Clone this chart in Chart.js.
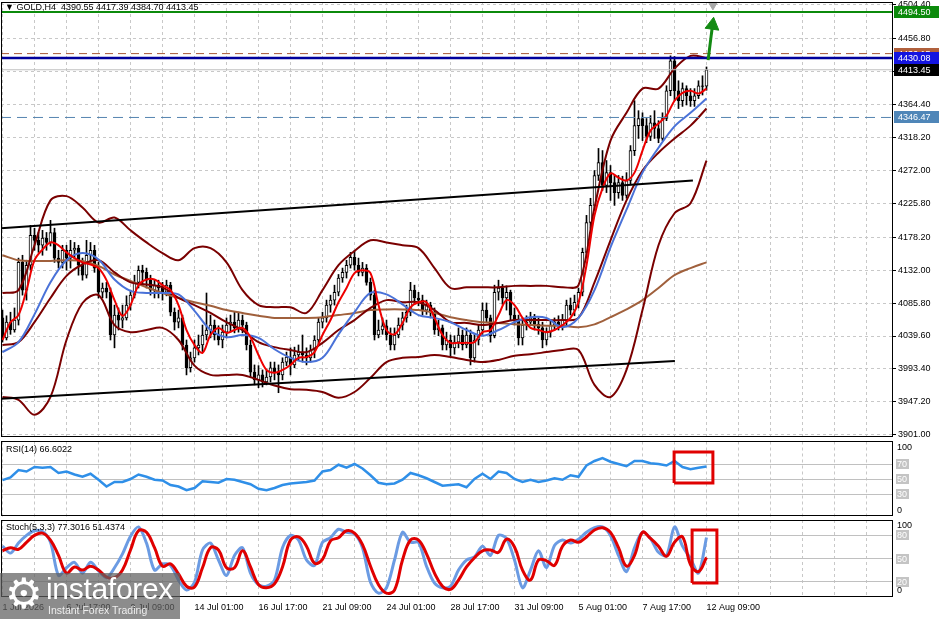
<!DOCTYPE html>
<html>
<head>
<meta charset="utf-8">
<script src="https://cdn.jsdelivr.net/npm/chart.js@4.4.1/dist/chart.umd.min.js"></script>
<style>
  html, body { margin: 0; padding: 0; background: #fff; }
  #wrap { position: relative; width: 939px; height: 619px; overflow: hidden; background: #fff; }
  .pane { position: absolute; left: 0; width: 939px; }
  #logo { position: absolute; left: 0; top: 573px; width: 180px; height: 46px; background: rgba(96,96,96,0.72); color: #fff; font-family: 'Liberation Sans', Arial, sans-serif; }
  #logo .gear { position: absolute; left: 5px; top: -4px; font-size: 42px; line-height: 50px; font-family: 'DejaVu Sans', sans-serif; }
  #logo .big { position: absolute; left: 46px; top: 0px; font-size: 30px; line-height: 32px; letter-spacing: -0.3px; }
  #logo .small { position: absolute; left: 48px; top: 31px; font-size: 10.5px; line-height: 12px; color: #eee; }
</style>
</head>
<body>
<div id="wrap">
  <div class="pane" style="top:0;height:439px"><canvas id="chartMain"></canvas></div>
  <div class="pane" style="top:439px;height:80px"><canvas id="chartRsi"></canvas></div>
  <div class="pane" style="top:518px;height:101px"><canvas id="chartStoch"></canvas></div>
  <div id="logo"><span class="gear">⚙</span><span class="big">instaforex</span><span class="small">Instant Forex Trading</span></div>
</div>
<script>
// ---- data ----
const timeLabels = ['1 Jul 2026', '6 Jul 17:00', '9 Jul 09:00', '14 Jul 01:00', '16 Jul 17:00', '21 Jul 09:00',
                    '24 Jul 01:00', '28 Jul 17:00', '31 Jul 09:00', '5 Aug 01:00', '7 Aug 17:00', '12 Aug 09:00'];
const priceTicks = [4504.40, 4456.80, 4410.60, 4364.40, 4318.20, 4272.00, 4225.80, 4178.20, 4132.00, 4085.80, 4039.60, 3993.40, 3947.20, 3901.00];

const open = [4065,4037,4059,4048,4062,4143,4104,4139,4181,4174, 4167,4177,4171,4185,4149,4143,4160,4149,4160,4163,
  4139,4125,4153,4160,4135,4101,4107,4101,4041,4069, 4062,4065,4083,4097,4115,4132,4129,4118,4104,4111,
  4107,4101,4111,4073,4059,4065,4027,3995,4009,4023, 4027,4041,4048,4055,4041,4034,4045,4055,4059,4051,
  4062,4055,4027,3989,3978,3985,3975,3982,3995,3989, 3985,4003,4010,3999,4013,4017,4013,4009,4020,4034,
  4059,4065,4083,4090,4101,4121,4129,4139,4150,4139, 4129,4135,4115,4097,4041,4048,4054,4041,4027,4041,
  4055,4065,4073,4104,4093,4090,4076,4083,4073,4048, 4051,4027,4034,4023,4031,4041,4027,4041,4009,4034,
  4048,4076,4065,4040,4101,4107,4093,4101,4069,4062, 4037,4055,4059,4065,4056,4051,4034,4045,4055,4059,
  4054,4062,4083,4076,4087,4101,4157,4199,4223,4265, 4283,4251,4269,4255,4241,4255,4237,4258,4300,4335,
  4345,4335,4320,4339,4331,4317,4345,4384,4426,4384, 4370,4387,4377,4370,4377,4391,4390.55];
const high = [4076,4068,4073,4079,4149,4153,4146,4195,4191,4185, 4188,4185,4202,4191,4160,4167,4167,4174,4171,4167,
  4149,4174,4171,4167,4143,4114,4115,4107,4083,4079, 4083,4096,4104,4125,4138,4139,4135,4125,4118,4118,
  4115,4118,4115,4079,4076,4069,4034,4017,4034,4041, 4055,4100,4069,4062,4054,4055,4065,4069,4073,4073,
  4069,4059,4034,3999,3998,3992,3992,4003,4003,3999, 4009,4017,4023,4024,4027,4041,4023,4027,4040,4065,
  4073,4090,4097,4111,4126,4135,4146,4157,4160,4149, 4143,4140,4121,4104,4062,4065,4062,4051,4051,4065,
  4073,4083,4115,4111,4101,4097,4090,4087,4079,4062, 4055,4045,4041,4040,4051,4048,4051,4048,4042,4055,
  4086,4086,4069,4111,4118,4112,4110,4104,4079,4069, 4065,4068,4073,4070,4065,4059,4051,4062,4065,4068,
  4070,4090,4093,4097,4107,4163,4209,4233,4272,4303, 4300,4286,4279,4265,4265,4264,4269,4307,4370,4356,
  4353,4345,4349,4356,4342,4353,4391,4433,4432,4398, 4395,4391,4387,4387,4398,4405,4417.39];
const low = [4031,4034,4042,4045,4055,4097,4090,4132,4160,4157, 4153,4160,4166,4143,4135,4135,4132,4135,4149,4125,
  4118,4121,4143,4129,4093,4093,4093,4034,4023,4048, 4051,4062,4076,4093,4107,4111,4107,4097,4093,4093,
  4090,4096,4068,4048,4051,4020,3985,3989,4003,4013, 4017,4034,4037,4034,4027,4023,4037,4045,4044,4045,
  4044,4020,3981,3971,3967,3968,3971,3975,3978,3960, 3978,3998,3985,3995,4006,4003,3999,4003,4009,4027,
  4051,4059,4073,4083,4096,4115,4121,4135,4132,4124, 4124,4111,4090,4034,4037,4042,4034,4020,4020,4037,
  4048,4059,4068,4084,4082,4069,4070,4065,4042,4040, 4020,4020,4012,4014,4023,4020,4023,3999,4003,4027,
  4042,4059,4031,4037,4090,4084,4076,4062,4055,4027, 4027,4048,4054,4048,4042,4023,4027,4038,4048,4048,
  4048,4054,4069,4068,4079,4096,4149,4191,4216,4258, 4244,4241,4230,4223,4233,4230,4233,4252,4293,4317,
  4314,4311,4314,4317,4311,4314,4342,4377,4370,4359, 4362,4364,4362,4362,4373,4378,4384.70];
const close = [4037,4059,4048,4062,4143,4104,4139,4181,4174,4167, 4177,4171,4185,4149,4143,4160,4149,4160,4163,4139,
  4125,4153,4160,4135,4101,4107,4101,4041,4069,4062, 4065,4083,4097,4115,4132,4129,4118,4104,4111,4107,
  4101,4111,4073,4059,4065,4027,3995,4009,4023,4027, 4041,4048,4055,4041,4034,4045,4055,4059,4051,4062,
  4055,4027,3989,3978,3985,3975,3982,3995,3989,3985, 4003,4010,3999,4013,4017,4013,4009,4020,4034,4059,
  4065,4083,4090,4101,4121,4129,4139,4150,4139,4129, 4135,4115,4097,4041,4048,4054,4041,4027,4041,4055,
  4065,4073,4104,4093,4090,4076,4083,4073,4048,4051, 4027,4034,4023,4031,4041,4027,4041,4009,4034,4048,
  4076,4065,4040,4101,4107,4093,4101,4069,4062,4037, 4055,4059,4065,4056,4051,4034,4045,4055,4059,4054,
  4062,4083,4076,4087,4101,4157,4199,4223,4265,4283, 4251,4269,4255,4241,4255,4237,4258,4300,4335,4345,
  4335,4320,4339,4331,4317,4345,4384,4426,4384,4370, 4387,4377,4370,4377,4391,4390,4413.45];

// indicator lines, read every 4 bars
const bbUpper = [4100,4104,4167,4230,4236,4220,4199,4206,4188,4171, 4156,4146,4163,4163,4143,4104,4083,4080,4080,4072,
  4104,4139,4159,4174,4171,4167,4163,4135,4107,4108, 4108,4108,4110,4110,4110,4108,4111,4220,4314,4353, 4387,4387,4415,4433,4430];
const bbMiddle = [4027,4031,4059,4093,4124,4140,4146,4129,4115,4112, 4108,4093,4083,4072,4059,4048,4031,4024,4020,4017,
  4030,4048,4062,4079,4090,4087,4087,4076,4059,4058, 4055,4058,4062,4062,4062,4062,4065,4115,4174,4230, 4272,4297,4317,4335,4359];
const bbLower = [3954,3950,3929,3954,4034,4086,4097,4055,4045,4048, 4051,4034,3998,3985,3985,3985,3978,3970,3965,3964,
  3961,3953,3961,3981,4003,4009,4010,4013,4010,4006, 4003,4006,4012,4014,4017,4020,4020,3971,3954,3992, 4076,4167,4212,4226,4286];
const maSlow = [4153,4146,4145,4145,4146,4145,4138,4126,4117,4108, 4100,4093,4087,4082,4076,4072,4068,4065,4065,4065,
  4066,4069,4072,4076,4077,4077,4076,4072,4066,4062, 4059,4058,4056,4055,4054,4054,4052,4056,4066,4077, 4090,4107,4125,4135,4143];
const maMid = [4017,4031,4070,4115,4146,4156,4147,4119,4103,4100, 4100,4098,4075,4048,4038,4041,4037,4021,4009,4003,
  4009,4042,4073,4100,4098,4084,4069,4065,4059,4048, 4040,4048,4059,4066,4065,4052,4065,4104,4164,4217, 4269,4304,4334,4353,4373];
// read every 2 bars
const maFast = [4034,4059,4069,4104,4146,4161,4171,4167,4157,4149, 4143,4140,4135,4118,4090,4068,4083,4111,4119,4119,
  4111,4104,4083,4048,4027,4016,4041,4051,4044,4048, 4051,4038,4013,3992,3988,3992,3999,4009,4010,4017,
  4041,4062,4087,4107,4128,4132,4128,4083,4048,4042, 4058,4080,4087,4087,4065,4041,4030,4030,4030,4031,
  4045,4048,4069,4090,4083,4065,4051,4048,4045,4048, 4055,4065,4087,4139,4209,4247,4268,4262,4258,4269,
  4300,4328,4338,4349,4370,4381,4384,4380,4387];
const rsi = [48.5,52,62,60,66,65,66,58,60,56, 53,57,49,40,46,46,50,56,53,49, 48,42,40,35,38,47,46,45,50,49,
  46,43,37,35,38,42,44,45,46,48, 60,62,69,65,70,64,55,45,43,44, 49,58,55,51,46,41,42,43,39,50,
  57,50,60,58,50,46,49,46,48,51, 49,55,53,68,74,78,73,70,67,74, 74,71,70,68,74,66,63,65,66.6];
const stochK = [66,57,70,80,86,85,71,28,38,45, 31,45,34,25,38,56,79,91,70,35, 43,41,22,9,19,61,70,48,28,54,
  64,31,16,14,22,64,80,74,48,41, 71,77,88,84,82,64,19,5,12,48, 84,71,71,40,18,12,14,35,48,52,
  66,54,80,76,48,12,35,60,38,67, 74,70,75,84,90,91,80,54,33,64, 84,76,58,54,91,66,50,31,77.3];
const stochD = [60,64,62,71,80,83,74,54,31,39, 35,40,35,26,25,35,61,86,84,64, 40,43,30,14,13,38,64,61,38,38,
  60,39,16,12,17,39,74,78,66,44, 49,73,77,86,83,68,40,16,5,9, 48,74,74,56,31,14,10,22,39,51,
  60,61,58,75,65,35,22,48,47,41, 66,74,71,78,87,90,84,64,40,54, 84,76,66,53,71,78,42,33,51.4];

// price levels and drawn objects
const levelValues = [4436.15, 4430.08, 4494.50, 4413.45, 4346.47];
const levelLineColors = ['#a85a36', '#00009c', '#0b8a0b', '#c0c0c0', '#5584b0'];
const levelBoxColors = ['#b0603c', '#1414e0', '#0b8a0b', '#000000', '#4f86b8'];
const levelWidths = [1, 2.5, 2, 1, 1];
const levelDash = [[8, 5], [], [], [], [10, 6]];
const trendUpperX = [-0.6, 172.6], trendUpperY = [4190.8, 4258.0];
const trendLowerX = [-0.6, 168.1], trendLowerY = [3951.4, 4004.6];
const arrowX = [176.4, 177.5], arrowY = [4427.0, 4476.0];
const rsiBoxX = [167.9, 177.6], rsiBoxY = [44.7, 86];
const stochBoxX = [172.4, 178.6], stochBoxY = [18.2, 87];
const rsiLevels = [70, 50, 30];
const stochLevels = [80, 50, 20];

// ---- chart setup ----
Chart.defaults.font.family = "'Liberation Sans', Arial, sans-serif";
Chart.defaults.font.size = 9;
Chart.defaults.color = '#000';
Chart.defaults.animation = false;
Chart.defaults.events = [];
Chart.defaults.plugins.legend.display = false;
Chart.defaults.plugins.tooltip.enabled = false;

const X_MIN = -0.375, X_MAX = 222.625;
const gridIdx = [];
for (let v = 0; v <= 216; v += 8) gridIdx.push(v);
const barIdx = close.map((_, i) => i);
const slowIdx = bbUpper.map((_, k) => k * 4);
const fastIdx = maFast.map((_, k) => k * 2);

function noPad(s) {
  s.paddingTop = 0; s.paddingBottom = 0; s.paddingLeft = 0; s.paddingRight = 0;
}

function xAxis(showLabels) {
  return {
    type: 'linear', min: X_MIN, max: X_MAX, offset: false,
    afterBuildTicks: s => { s.ticks = gridIdx.map(v => ({ value: v })); },
    afterFit: s => { s.height = showLabels ? 22 : 0; noPad(s); },
    grid: { color: '#c8c8c8', drawTicks: false, offset: false },
    border: { display: false, dash: [3, 3] },
    ticks: showLabels ? {
      autoSkip: false, maxRotation: 0, align: 'start', padding: 5,
      callback: v => (v % 16 === 0 && v / 16 < timeLabels.length) ? timeLabels[v / 16] : ''
    } : { display: false }
  };
}

function series(xs, ys, color, width, order, extra) {
  return Object.assign({
    type: 'line', data: xs.map((x, k) => ({ x, y: ys[k] })),
    borderColor: color, borderWidth: width, pointRadius: 0, tension: 0.35, fill: false, order
  }, extra || {});
}

function boxSeries(bx, by) {
  return series([bx[0], bx[1], bx[1], bx[0], bx[0]], [by[0], by[0], by[1], by[1], by[0]], '#e00000', 3, 0, { tension: 0, clip: false });
}

const frame = {
  id: 'frame',
  afterDraw(chart) {
    const { ctx, chartArea: a } = chart;
    ctx.save();
    ctx.strokeStyle = '#000';
    ctx.lineWidth = 1;
    ctx.strokeRect(Math.floor(a.left) + 0.5, Math.floor(a.top) + 0.5, Math.round(a.right - a.left) - 1, Math.round(a.bottom - a.top) - 1);
    ctx.restore();
  }
};

const panelText = {
  id: 'panelText',
  afterDraw(chart, args, opts) {
    const { ctx, chartArea: a } = chart;
    ctx.save();
    ctx.font = "9px 'Liberation Sans', Arial, sans-serif";
    ctx.textBaseline = 'middle';
    ctx.fillStyle = '#000';
    ctx.fillText(opts.text, a.left + opts.dx, a.top + opts.dy);
    if (opts.levels) {
      const ys = chart.scales.y;
      opts.levels.forEach(v => {
        const py = Math.round(ys.getPixelForValue(v));
        ctx.fillStyle = '#c4c4c4';
        ctx.fillRect(a.right + 3, py - 5, 13, 10);
        ctx.fillStyle = '#fff';
        ctx.fillText(String(v), a.right + 4, py + 0.5);
      });
      ctx.fillStyle = '#000';
      ctx.fillText('100', a.right + 4, a.top + 6);
      ctx.fillText('0', a.right + 4, a.bottom - 6);
    }
    ctx.restore();
  }
};

const priceBoxes = {
  id: 'priceBoxes',
  afterDraw(chart) {
    const { ctx, chartArea: a } = chart;
    const ys = chart.scales.y;
    ctx.save();
    ctx.font = "9px 'Liberation Sans', Arial, sans-serif";
    ctx.textBaseline = 'middle';
    levelValues.forEach((v, i) => {
      const py = Math.round(ys.getPixelForValue(v));
      ctx.fillStyle = levelBoxColors[i];
      ctx.fillRect(a.right + 1, py - 6, 46, 12);
      ctx.fillStyle = '#fff';
      ctx.fillText(v.toFixed(2), a.right + 5, py + 0.5);
    });
    ctx.restore();
  }
};

const last = close.length - 1;
const titleText = '\u25BC GOLD,H4  ' + [open[last], high[last], low[last], close[last]].map(v => v.toFixed(2)).join(' ');

const mainDatasets = [
  { type: 'bar', data: barIdx.map(i => ({ x: i, y: [low[i], high[i]] })), backgroundColor: '#000', barThickness: 1, grouped: false, order: 21 },
  { type: 'bar', data: barIdx.map(i => ({ x: i, y: [open[i], close[i]] })),
    backgroundColor: barIdx.map(i => close[i] >= open[i] ? '#fff' : '#000'),
    borderColor: '#000', borderWidth: 1, borderSkipped: false, barThickness: 3, grouped: false, order: 20 },
  series(slowIdx, maSlow, '#a0603c', 2, 8),
  series(slowIdx, bbUpper, '#7a0000', 2, 7),
  series(slowIdx, bbMiddle, '#7a0000', 2, 7),
  series(slowIdx, bbLower, '#7a0000', 2, 7),
  series(slowIdx, maMid, '#4a72d8', 2, 6),
  series(fastIdx, maFast, '#ee0000', 2, 5),
  series(trendUpperX, trendUpperY, '#000', 2, 3, { tension: 0 }),
  series(trendLowerX, trendLowerY, '#000', 2, 3, { tension: 0 }),
  series(arrowX, arrowY, '#138a13', 3, 1, { tension: 0, pointRadius: [0, 8], pointStyle: 'triangle', pointRotation: 8, pointBackgroundColor: '#138a13', pointBorderWidth: 1, clip: false }),
  series([177.6], [4504.5], '#a8a8a8', 1, 1, { pointRadius: 5, pointStyle: 'triangle', pointRotation: 180, pointBackgroundColor: '#a8a8a8', clip: false })
];
levelValues.forEach((v, i) => {
  mainDatasets.push(series([X_MIN, X_MAX], [v, v], levelLineColors[i], levelWidths[i], 4, { tension: 0, borderDash: levelDash[i] }));
});

new Chart(document.getElementById('chartMain'), {
  type: 'bar',
  data: { datasets: mainDatasets },
  options: {
    responsive: true, maintainAspectRatio: false, devicePixelRatio: 1,
    layout: { autoPadding: false, padding: { left: 1, top: 2, right: 0, bottom: 2 } },
    scales: {
      x: xAxis(false),
      y: {
        position: 'right', min: 3897.8, max: 4508.6,
        afterBuildTicks: s => { s.ticks = priceTicks.map(v => ({ value: v })); },
        afterFit: s => { s.width = 46; noPad(s); },
        grid: { color: '#c8c8c8', drawTicks: true, tickLength: 3, tickColor: '#000' },
        border: { display: false, dash: [3, 3] },
        ticks: { padding: 2, callback: v => v.toFixed(2) }
      }
    },
    plugins: { panelText: { text: titleText, dx: 4, dy: 6 } }
  },
  plugins: [frame, panelText, priceBoxes]
});

function indicatorY(levels) {
  return {
    position: 'right', min: 0, max: 100,
    afterBuildTicks: s => { s.ticks = levels.map(v => ({ value: v })); },
    afterFit: s => { s.width = 46; noPad(s); },
    grid: { color: '#c0c0c0', drawTicks: false },
    border: { display: false },
    ticks: { display: false }
  };
}

new Chart(document.getElementById('chartRsi'), {
  type: 'line',
  data: { datasets: [
    series(fastIdx, rsi, '#2f8fe8', 2.5, 2, { tension: 0 }),
    boxSeries(rsiBoxX, rsiBoxY)
  ] },
  options: {
    responsive: true, maintainAspectRatio: false, devicePixelRatio: 1,
    layout: { autoPadding: false, padding: { left: 1, top: 2.5, right: 0, bottom: 2.5 } },
    scales: { x: xAxis(false), y: indicatorY(rsiLevels) },
    plugins: { panelText: { text: 'RSI(14) 66.6022', dx: 5, dy: 8, levels: rsiLevels } }
  },
  plugins: [frame, panelText]
});

new Chart(document.getElementById('chartStoch'), {
  type: 'line',
  data: { datasets: [
    series(fastIdx, stochK, '#6b9be3', 3, 3, { tension: 0.3 }),
    series(fastIdx, stochD, '#e00000', 3, 2, { tension: 0.4 }),
    boxSeries(stochBoxX, stochBoxY)
  ] },
  options: {
    responsive: true, maintainAspectRatio: false, devicePixelRatio: 1,
    layout: { autoPadding: false, padding: { left: 1, top: 2, right: 0, bottom: 0 } },
    scales: { x: xAxis(true), y: indicatorY(stochLevels) },
    plugins: { panelText: { text: 'Stoch(5,3,3) 77.3016 51.4374', dx: 5, dy: 8, levels: stochLevels } }
  },
  plugins: [frame, panelText]
});
</script>
</body>
</html>
